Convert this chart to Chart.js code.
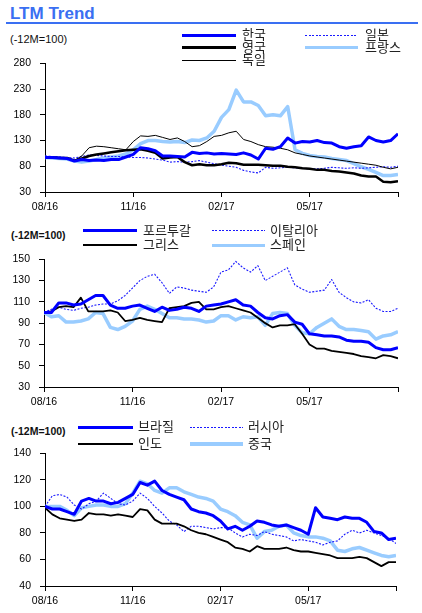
<!DOCTYPE html>
<html><head><meta charset="utf-8">
<script src="https://cdn.jsdelivr.net/npm/chart.js@4"></script>
<style>
body{margin:0;background:#fff;}
#wrap{position:relative;width:422px;height:613px;overflow:hidden;font-family:"Liberation Sans",Arial,sans-serif;background:#fff;}
canvas{position:absolute;left:0;}
.t{position:absolute;white-space:nowrap;line-height:1;}
.lg{position:absolute;white-space:nowrap;font-family:"Noto Sans CJK KR","Liberation Sans",sans-serif;font-size:13px;line-height:14px;color:#222;z-index:3;}
.ln{position:absolute;z-index:3;}
</style></head>
<body><div id="wrap">
<div class="t" style="left:10px;top:5px;font-size:17px;font-weight:bold;color:#3a6ff2;">LTM Trend</div>
<div style="position:absolute;left:6px;top:22px;width:412px;height:2px;background:#3a6ff2;"></div>
<div class="t" style="left:10px;top:34px;font-size:11px;color:#111;">(-12M=100)</div>
<div class="t" style="left:11px;top:230px;font-size:10.5px;font-weight:bold;color:#111;">(-12M=100)</div>
<div class="t" style="left:11px;top:426px;font-size:10.5px;font-weight:bold;color:#111;">(-12M=100)</div>
<canvas id="c1" width="422" height="170" style="top:48px"></canvas>
<canvas id="c2" width="422" height="170" style="top:244px"></canvas>
<canvas id="c3" width="422" height="175" style="top:438px"></canvas>
</div>
<script>
// ---------- data ----------
const xLabels = ['08/16','11/16','02/17','05/17',''];

// Panel 1
const korea   = [97,97,96,95,90,93,91,92,91,93,93,98,103,116,114,110,100,100,99,98,107,105,106,104,105,104,103,106,102,94,115,113,118,135,125,128,127,130,126,125,118,115,118,120,137,130,127,130,143];
const japan   = [100,99,98,97,96,99,102,101,100,99,99,98,97,97,96,94,92,88,89,88,89,91,88,85,82,80,78,72,69,67,78,76,77,78,77,76,75,75,76,78,77,76,77,76,77,78,79,78,80];
const uk      = [97,97,96,96,91,95,100,103,105,107,109,111,112,113,110,106,95,97,98,88,82,84,82,82,84,87,86,83,83,83,82,81,81,79,78,76,75,73,73,71,70,68,66,62,60,60,50,49,51];
const france  = [97,96,95,94,90,88,90,93,96,98,100,104,112,124,130,130,128,127,128,126,131,130,135,148,175,190,228,205,205,198,178,180,178,196,112,105,101,99,98,95,93,91,85,79,74,68,62,62,64];
const germany = [99,98,97,95,91,100,116,119,118,116,114,112,128,139,138,140,136,132,135,128,118,120,128,138,140,145,148,132,128,122,118,117,115,112,106,103,100,98,96,94,92,90,88,86,84,82,78,75,78];

// Panel 2
const portugal = [100,100,109,109,107,108,112,116,116,107,104,104,106,107,104,101,105,102,103,105,104,101,106,107,108,110,112,107,106,100,95,94,97,98,91,89,80,79,78,78,77,74,73,73,72,67,65,65,67];
const italy    = [100,103,105,103,102,104,105,107,108,108,111,116,123,130,134,136,128,118,124,123,121,120,119,124,138,140,148,142,138,144,130,134,138,142,126,122,119,120,121,131,119,114,110,109,112,104,101,101,104];
const greece   = [100,101,105,106,105,114,101,101,101,102,100,92,93,95,93,92,91,104,105,106,109,110,103,103,105,106,104,102,100,95,90,86,88,88,89,80,70,66,66,64,63,62,61,59,58,57,60,59,57];
const spain    = [100,96,97,91,91,92,94,100,99,86,84,87,92,103,106,103,99,95,95,94,94,93,91,92,97,97,93,96,95,96,88,99,100,99,88,81,80,86,90,94,87,84,84,83,82,75,78,79,82];

// Panel 3
const brazil = [100,98,98,96,94,104,106,104,104,102,103,106,109,118,116,119,112,109,107,105,98,96,95,93,89,83,85,82,85,89,88,86,85,86,84,82,79,99,92,91,90,92,91,91,88,81,80,75,76];
const russia = [100,108,109,107,101,98,102,104,110,106,102,101,104,110,106,100,95,89,86,81,85,85,84,83,84,84,80,77,79,78,81,79,78,77,74,75,74,73,71,73,74,79,82,80,82,80,78,76,72];
const india  = [99,94,91,90,89,90,95,94,94,93,94,93,92,98,97,90,87,87,87,85,82,80,79,77,75,73,69,68,66,70,68,68,68,69,67,66,66,65,64,63,61,61,61,62,61,58,55,58,58];
const china  = [100,100,100,97,93,99,100,101,101,100,100,102,110,119,117,112,110,114,114,111,109,107,106,104,98,96,93,88,86,76,81,82,85,86,80,78,77,77,76,74,67,66,68,69,67,65,63,62,63];

// ---------- styles ----------
const ST = {
  blue:  {color:'#0000ff', width:3,   dash:[]},
  dot:   {color:'#1a1aff', width:1.1, dash:[2,1.5]},
  blackT:{color:'#000000', width:2.5, dash:[]},
  blackM:{color:'#000000', width:1.8, dash:[]},
  black: {color:'#000000', width:1,   dash:[]},
  light: {color:'#99ccff', width:3.5, dash:[]}
};

const panels = [
  { id:'c1', yMin:30, yMax:280, yStep:50, padTop:8, padRight:24, yWidth:45, xHeight:26,
    series:[ ['한국',korea,'blue'], ['독일',germany,'black'], ['영국',uk,'blackT'], ['일본',japan,'dot'], ['프랑스',france,'light'] ],
    legend:{ rows:[35,47.5,60], cols:[[182,236,242],[305,358,365]],
      items:[['한국',0,0],['영국',0,1],['독일',0,2],['일본',1,0],['프랑스',1,1]] } },
  { id:'c2', yMin:30, yMax:150, yStep:20, padTop:9, padRight:24, yWidth:44, xHeight:27,
    series:[ ['포르투갈',portugal,'blue'], ['그리스',greece,'blackM'], ['이탈리아',italy,'dot'], ['스페인',spain,'light'] ],
    legend:{ rows:[230.7,245.3], cols:[[83,137,143],[212,265,270]],
      items:[['포르투갈',0,0],['그리스',0,1],['이탈리아',1,0],['스페인',1,1]] } },
  { id:'c3', yMin:40, yMax:140, yStep:20, padTop:8, padRight:26, yWidth:45, xHeight:27,
    series:[ ['브라질',brazil,'blue'], ['인도',india,'blackM'], ['러시아',russia,'dot'], ['중국',china,'light'] ],
    legend:{ rows:[427.3,444], cols:[[78,133,138],[190,243,248]],
      items:[['브라질',0,0],['인도',0,1],['러시아',1,0],['중국',1,1]] } }
];

const wrap = document.getElementById('wrap');
const tickFont = {family:'"Liberation Sans", Arial, sans-serif', size:10.5};

panels.forEach(p => {
  const styleOf = {};
  p.series.forEach(s => styleOf[s[0]] = ST[s[2]]);
  // legend
  p.legend.items.forEach(([name,c,r]) => {
    const st = styleOf[name];
    const [x0,x1,tx] = p.legend.cols[c];
    const y = p.legend.rows[r];
    const ln = document.createElement('div');
    ln.className = 'ln';
    ln.style.left = x0+'px'; ln.style.width = (x1-x0)+'px';
    if (st.dash.length) {
      ln.style.top = Math.round(y - 0.5)+'px'; ln.style.height = '1px';
      ln.style.background = 'repeating-linear-gradient(90deg,'+st.color+' 0px,'+st.color+' 2px,transparent 2px,transparent 3.5px)';
    } else {
      ln.style.top = (y - st.width/2)+'px'; ln.style.height = st.width+'px';
      ln.style.background = st.color;
    }
    wrap.appendChild(ln);
    const tx_ = document.createElement('div');
    tx_.className = 'lg';
    tx_.style.left = tx+'px'; tx_.style.top = (y-8)+'px';
    tx_.textContent = name;
    wrap.appendChild(tx_);
  });

  const datasets = p.series.map(([name,vals,sk]) => {
    const st = ST[sk];
    return { label:name, data: vals.map((v,i)=>({x:i,y:v})), borderColor:st.color,
             borderWidth:st.width, borderDash:st.dash, pointRadius:0, tension:0, fill:false,
             borderJoinStyle:'round', borderCapStyle:'butt' };
  });

  new Chart(document.getElementById(p.id), {
    type:'line',
    data:{ datasets },
    options:{
      responsive:false, animation:false, devicePixelRatio:1,
      layout:{ padding:{ left:0, top:p.padTop, right:p.padRight, bottom:0 } },
      plugins:{ legend:{display:false}, tooltip:{enabled:false} },
      scales:{
        x:{ type:'linear', min:0, max:48,
            afterFit: s => { s.height = p.xHeight; },
            ticks:{ stepSize:12, autoSkip:false, maxRotation:0, padding:4, color:'#000', font:tickFont,
                    callback: v => xLabels[Math.round(v/12)] },
            grid:{ display:true, drawOnChartArea:false, drawTicks:true, tickLength:5, color:'#000' },
            border:{ display:true, color:'#000', width:1 } },
        y:{ min:p.yMin, max:p.yMax,
            afterFit: s => { s.width = p.yWidth; },
            ticks:{ stepSize:p.yStep, padding:9, color:'#000', font:tickFont },
            grid:{ display:true, drawOnChartArea:false, drawTicks:true, tickLength:5, color:'#000' },
            border:{ display:true, color:'#000', width:1 } }
      }
    }
  });
});
</script>
</body></html>
